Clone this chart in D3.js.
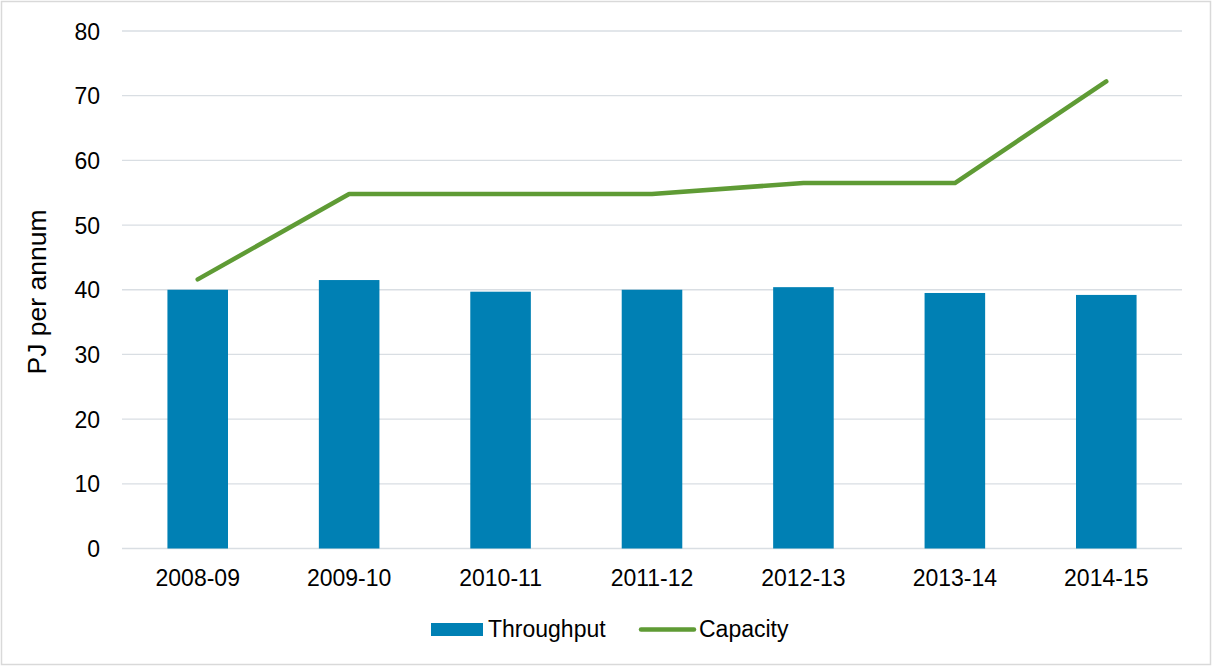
<!DOCTYPE html>
<html><head><meta charset="utf-8">
<script src="https://cdn.jsdelivr.net/npm/d3@7"></script>
<style>body{margin:0;background:#fff}svg{display:block}text{font-family:"Liberation Sans",Arial,sans-serif;fill:#000}</style>
</head><body><svg id="c" width="1212" height="666"></svg>
<script>
const categories = ["2008-09","2009-10","2010-11","2011-12","2012-13","2013-14","2014-15"];
const throughput = [40.0, 41.5, 39.7, 40.0, 40.4, 39.5, 39.2];
const capacity = [41.6, 54.8, 54.8, 54.8, 56.5, 56.5, 72.2];
const yTicks = [0,10,20,30,40,50,60,70,80];

const svg = d3.select("#c");
svg.append("rect").attr("x",1.5).attr("y",1.5).attr("width",1209).attr("height",663)
  .attr("fill","#fff").attr("stroke","#D9D9D9").attr("stroke-width",1.5);

const L=122, R=1182, T=31, B=548.5;
const x = d3.scaleBand().domain(categories).range([L,R]).paddingInner(0.6).paddingOuter(0.3);
const y = d3.scaleLinear().domain([0,80]).range([B,T]);

const grid = svg.append("g");
grid.selectAll("line").data(yTicks).join("line")
  .attr("x1",L).attr("x2",R).attr("y1",d=>y(d)).attr("y2",d=>y(d))
  .attr("stroke","#D9DEE3").attr("stroke-width",1.3);

const yAxis = d3.axisLeft(y).tickValues(yTicks).tickSize(0).tickPadding(0);
svg.append("g").attr("transform",`translate(100,0)`).call(yAxis)
  .call(g=>g.select(".domain").remove())
  .call(g=>g.selectAll("text").attr("font-size",23).attr("dy","0.35em").attr("font-family","Liberation Sans, Arial, sans-serif").attr("fill","#000"));

svg.append("g").selectAll("rect").data(categories).join("rect")
  .attr("x",d=>x(d)).attr("width",x.bandwidth())
  .attr("y",(d,i)=>y(throughput[i])).attr("height",(d,i)=>B-y(throughput[i]))
  .attr("fill","#0080B4");

const xAxis = d3.axisBottom(x).tickSize(0).tickPadding(0);
svg.append("g").attr("transform",`translate(0,586)`).call(xAxis)
  .call(g=>g.select(".domain").remove())
  .call(g=>g.selectAll("text").attr("font-size",23).attr("dy","0").attr("font-family","Liberation Sans, Arial, sans-serif").attr("fill","#000"));

const line = d3.line().x((d,i)=>x(categories[i])+x.bandwidth()/2).y(d=>y(d));
svg.append("path").datum(capacity).attr("d",line).attr("fill","none")
  .attr("stroke","#5F9B35").attr("stroke-width",4.5).attr("stroke-linecap","round").attr("stroke-linejoin","round");

svg.append("text").attr("transform","translate(46,292) rotate(-90)").attr("text-anchor","middle")
  .attr("font-size",26.5).text("PJ per annum");

const lg = svg.append("g");
lg.append("rect").attr("x",431).attr("y",623).attr("width",52).attr("height",13).attr("fill","#0080B4");
lg.append("text").attr("x",488).attr("y",637).attr("font-size",23).text("Throughput");
lg.append("line").attr("x1",641).attr("x2",694).attr("y1",629.5).attr("y2",629.5)
  .attr("stroke","#5F9B35").attr("stroke-width",4.5).attr("stroke-linecap","round");
lg.append("text").attr("x",699).attr("y",637).attr("font-size",23).text("Capacity");
</script></body></html>
